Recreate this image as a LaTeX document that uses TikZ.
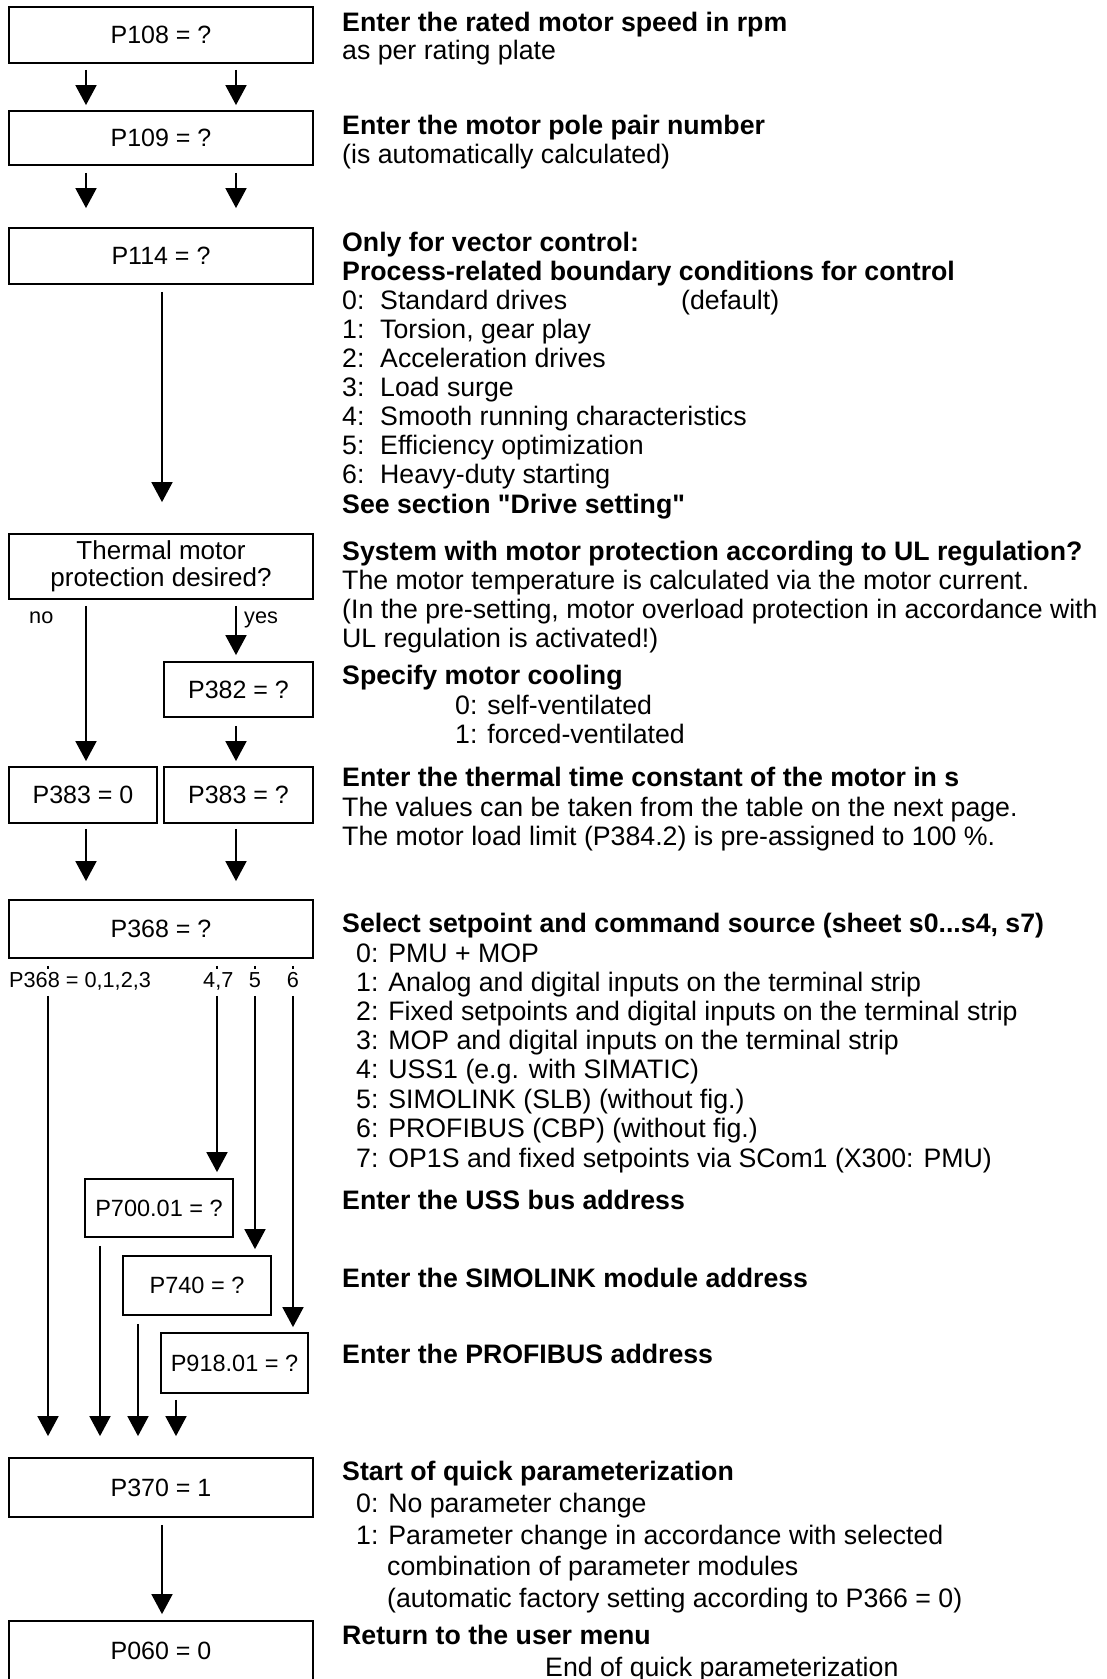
\documentclass[tikz,border=0pt]{standalone}
\usepackage{fontspec}
\setmainfont{Liberation Sans}
\newfontfamily\plainq{Liberation Sans}
\usetikzlibrary{arrows.meta,calc}
\begin{document}
\begin{tikzpicture}[x=1pt,y=-1pt,
  box/.style={draw,line width=1.8pt,inner sep=0pt,font=\fontsize{25}{28}\selectfont,align=center},
  sbox/.style={box,font=\fontsize{23.5}{28}\selectfont},
  arr/.style={line width=1.8pt,-{Triangle[width=21pt,length=20pt]}},
  brarr/.style={arr,dash pattern=on 0pt off 7pt on 3pt off 27pt on 3000pt},
  rt/.style={anchor=base west,inner sep=0pt,font=\fontsize{26.7}{29}\selectfont},
  rb/.style={anchor=base west,inner sep=0pt,font=\fontsize{26.7}{29}\selectfont\bfseries},
  lab/.style={anchor=base west,inner sep=0pt,font=\fontsize{21.7}{24}\selectfont}]
\fill[white] (0,0) rectangle (1106,1679);
\clip (0,0) rectangle (1106,1679);

% boxes
\node[box,minimum width=304pt,minimum height=56pt] (p108) at (161,35) {P108 = ?};
\node[box,minimum width=304pt,minimum height=54pt] (p109) at (161,138) {P109 = ?};
\node[box,minimum width=304pt,minimum height=56pt] (p114) at (161,256) {P114 = ?};
\node[box,minimum width=304pt,minimum height=65pt,font=\fontsize{26}{27}\selectfont] (therm) at (161,566.5) {Thermal motor\\protection desired?};
\node[box,minimum width=149pt,minimum height=55pt] (p382) at (238.5,689.5) {P382 = ?};
\node[box,minimum width=148pt,minimum height=56pt] (p3830) at (83,795) {P383 = 0};
\node[box,minimum width=149pt,minimum height=56pt] (p383q) at (238.5,795) {P383 = ?};
\node[box,minimum width=304pt,minimum height=58pt] (p368) at (161,929) {P368 = ?};
\node[sbox,minimum width=148pt,minimum height=58pt] (p700) at (159,1208) {P700.01 = ?};
\node[sbox,minimum width=148pt,minimum height=59pt] (p740) at (197,1285.5) {P740 = ?};
\node[sbox,minimum width=147pt,minimum height=60pt] (p918) at (234.5,1363) {P918.01 = ?};
\node[box,minimum width=304pt,minimum height=59pt] (p370) at (161,1487.5) {P370 = 1};
\node[box,minimum width=304pt,minimum height=60pt] (p060) at (161,1651) {P060 = 0};

% x positions of connectors
\coordinate (xL) at (86,0);
\coordinate (xR) at (236,0);
\coordinate (xM) at (162,0);
\coordinate (xA) at (48,0);
\coordinate (xB) at (217,0);
\coordinate (xC) at (255,0);
\coordinate (xD) at (293,0);
\coordinate (xE) at (100,0);
\coordinate (xF) at (138,0);
\coordinate (xG) at (176,0);

% connectors
\draw[arr] ($(p108.south -| xL)+(0,6)$) -- ($(p109.north -| xL)+(0,-5)$);
\draw[arr] ($(p108.south -| xR)+(0,6)$) -- ($(p109.north -| xR)+(0,-5)$);
\draw[arr] ($(p109.south -| xL)+(0,7)$) -- ($(p114.north -| xL)+(0,-19)$);
\draw[arr] ($(p109.south -| xR)+(0,7)$) -- ($(p114.north -| xR)+(0,-19)$);
\draw[arr] ($(p114.south -| xM)+(0,7)$) -- ($(therm.north -| xM)+(0,-31)$);
\draw[arr] ($(therm.south -| xL)+(0,6)$) -- ($(p3830.north -| xL)+(0,-5)$);
\draw[arr] ($(therm.south -| xR)+(0,6)$) -- ($(p382.north -| xR)+(0,-6)$);
\draw[arr] ($(p382.south -| xR)+(0,8)$) -- ($(p383q.north -| xR)+(0,-5)$);
\draw[arr] ($(p3830.south -| xL)+(0,5)$) -- ($(p368.north -| xL)+(0,-18)$);
\draw[arr] ($(p383q.south -| xR)+(0,5)$) -- ($(p368.north -| xR)+(0,-18)$);
\draw[brarr] (p368.south -| xA) -- ($(p370.north -| xA)+(0,-21)$);
\draw[brarr] (p368.south -| xB) -- ($(p700.north -| xB)+(0,-6)$);
\draw[brarr] (p368.south -| xC) -- ($(p740.north -| xC)+(0,-6)$);
\draw[brarr] (p368.south -| xD) -- ($(p918.north -| xD)+(0,-5)$);
\draw[arr] ($(p700.south -| xE)+(0,8)$) -- ($(p370.north -| xE)+(0,-21)$);
\draw[arr] ($(p740.south -| xF)+(0,8)$) -- ($(p370.north -| xF)+(0,-21)$);
\draw[arr] ($(p918.south -| xG)+(0,6)$) -- ($(p370.north -| xG)+(0,-21)$);
\draw[arr] ($(p370.south -| xM)+(0,7)$) -- ($(p060.north -| xM)+(0,-6)$);

% branch labels
\node[lab] (lno) at (29,623) {no};
\node[lab] (lyes) at (244,623) {yes};
\node[lab] (l0123) at (9,987) {P368 = 0,1,2,3};
\node[lab] (l47) at (203,987) {4,7};
\node[lab,anchor=base] (l5) at (255,987) {5};
\node[lab,anchor=base] (l6) at (293,987) {6};

% right-hand texts
\node[rb] (t01) at (342,31) {Enter the rated motor speed in rpm};
\node[rt] (t02) at (342,59) {as per rating plate};
\node[rb] (t03) at (342,134) {Enter the motor pole pair number};
\node[rt] (t04) at (342,163) {(is automatically calculated)};
\node[rb] (t05) at (342,251) {Only for vector control:};
\node[rb] (t06) at (342,280) {Process-related boundary conditions for control};
\node[rt] (t07) at (342,309) {\makebox[38pt][l]{0:}Standard drives};
\node[rt] (t07b) at (681,309) {(default)};
\node[rt] (t08) at (342,338) {\makebox[38pt][l]{1:}Torsion, gear play};
\node[rt] (t09) at (342,367) {\makebox[38pt][l]{2:}Acceleration drives};
\node[rt] (t10) at (342,396) {\makebox[38pt][l]{3:}Load surge};
\node[rt] (t11) at (342,425) {\makebox[38pt][l]{4:}Smooth running characteristics};
\node[rt] (t12) at (342,454) {\makebox[38pt][l]{5:}Efficiency optimization};
\node[rt] (t13) at (342,483) {\makebox[38pt][l]{6:}Heavy-duty starting};
\node[rb] (t14) at (342,513) {See section {\plainq\bfseries "}Drive setting{\plainq\bfseries "}};
\node[rb] (t15) at (342,560) {System with motor protection according to UL regulation?};
\node[rt] (t16) at (342,589) {The motor temperature is calculated via the motor current.};
\node[rt] (t17) at (342,618) {(In the pre-setting, motor overload protection in accordance with};
\node[rt] (t18) at (342,647) {UL regulation is activated!)};
\node[rb] (t19) at (342,684) {Specify motor cooling};
\node[rt] (t20) at (455,714) {0: self-ventilated};
\node[rt] (t21) at (455,743) {1: forced-ventilated};
\node[rb] (t22) at (342,786) {Enter the thermal time constant of the motor in s};
\node[rt] (t23) at (342,816) {The values can be taken from the table on the next page.};
\node[rt] (t24) at (342,845) {The motor load limit (P384.2) is pre-assigned to 100 \%.};
\node[rb] (t25) at (342,932) {Select setpoint and command source (sheet s0...s4, s7)};
\node[rt] (t26) at (356,962) {0: PMU + MOP};
\node[rt] (t27) at (356,991) {1: Analog and digital inputs on the terminal strip};
\node[rt] (t28) at (356,1020) {2: Fixed setpoints and digital inputs on the terminal strip};
\node[rt] (t29) at (356,1049) {3: MOP and digital inputs on the terminal strip};
\node[rt] (t30) at (356,1078) {4: USS1 (e.g. with SIMATIC)};
\node[rt] (t31) at (356,1108) {5: SIMOLINK (SLB) (without fig.)};
\node[rt] (t32) at (356,1137) {6: PROFIBUS (CBP) (without fig.)};
\node[rt] (t33) at (356,1167) {7: OP1S and fixed setpoints via SCom1 (X300: PMU)};
\node[rb] (t34) at (342,1209) {Enter the USS bus address};
\node[rb] (t35) at (342,1287) {Enter the SIMOLINK module address};
\node[rb] (t36) at (342,1363) {Enter the PROFIBUS address};
\node[rb] (t37) at (342,1480) {Start of quick parameterization};
\node[rt] (t38) at (356,1512) {0: No parameter change};
\node[rt] (t39) at (356,1544) {1: Parameter change in accordance with selected};
\node[rt] (t40) at (387,1575) {combination of parameter modules};
\node[rt] (t41) at (387,1607) {(automatic factory setting according to P366 = 0)};
\node[rb] (t42) at (342,1644) {Return to the user menu};
\node[rt] (t43) at (545,1676) {End of quick parameterization};
\end{tikzpicture}
\end{document}
